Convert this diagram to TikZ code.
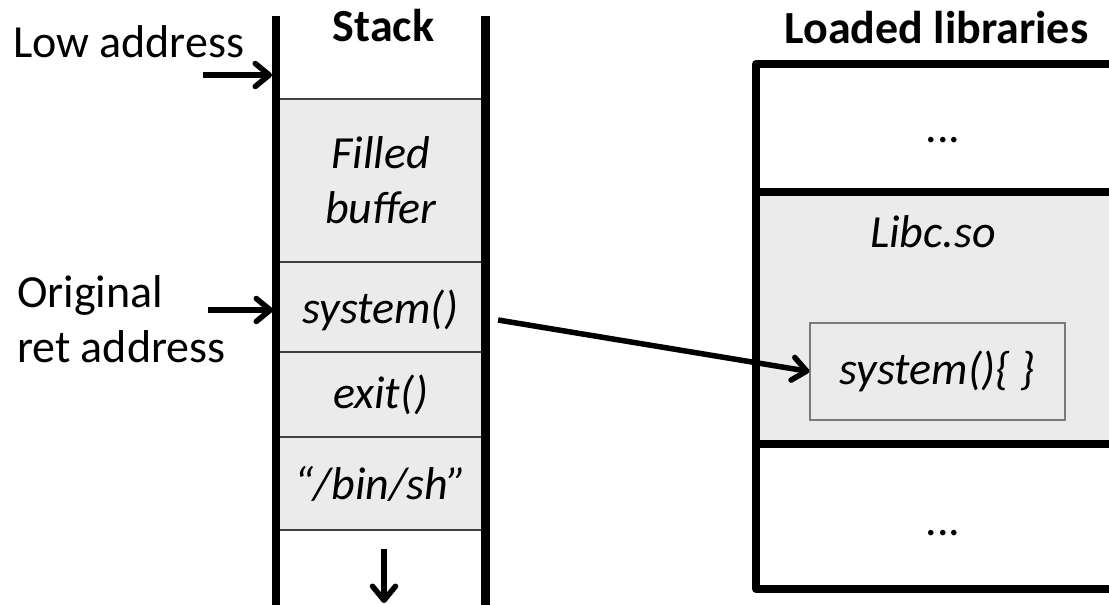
\documentclass[tikz,border=0pt]{standalone}
\usepackage{fontspec}
\setmainfont{Carlito}
\usetikzlibrary{arrows.meta}
\definecolor{cellgray}{HTML}{EBEBEB}
\definecolor{rulegray}{HTML}{404040}
\definecolor{framegray}{HTML}{7A7A7A}
\begin{document}
\begin{tikzpicture}[x=1pt,y=-1pt,
  font=\fontsize{46}{55}\selectfont,
  txt/.style={inner sep=0pt,outer sep=0pt},
  cell/.style={draw=rulegray,line width=1.2pt,fill=cellgray,minimum width=209.5pt,
    inner sep=0pt,font=\fontsize{46}{55}\selectfont\itshape,align=center},
  wall/.style={line width=8.5pt},
  frame/.style={line width=7.5pt,line join=round},
  ptr/.style={line width=5.5pt,
    -{Straight Barb[length=14pt,width=23pt,line width=5.5pt,line cap=round,line join=round]}}]
\useasboundingbox (0,0) rectangle (1109,605);
\clip (0,0) rectangle (1109,605);

% stack frames
\node[cell,minimum height=163pt] (buf) at (380.75,180.5) {Filled\\buffer};
\node[cell,minimum height=90pt,text depth=0pt] (sys) at (380.75,307) {system()};
\node[cell,minimum height=85pt]  (ext) at (380.75,394.5) {exit()};
\node[cell,minimum height=93pt]  (sh)  at (380.75,483.5) {“/bin/sh”};
\draw[wall] (276,16) -- (276,615);
\draw[wall] (485.5,16) -- (485.5,615);
\node[txt,font=\fontsize{46}{55}\selectfont\bfseries,anchor=base] (stk) at (383.5,41.5) {Stack};

% growth direction
\coordinate (gtop) at (384,549);
\coordinate (gbot) at (384,603);
\draw[ptr] (gtop) -- (gbot);

% address labels
\node[txt,anchor=base west] (low) at (13,57) {Low address};
\coordinate (lowtail) at (203,75);
\coordinate (lowtip) at (272,75);
\draw[ptr] (lowtail) -- (lowtip);
\node[txt,anchor=base west,align=left] (orig) at (17,362) {Original\\ret address};
\coordinate (origtail) at (208,310);
\coordinate (origtip) at (273,310);
\draw[ptr] (origtail) -- (origtip);

% loaded libraries
\fill[cellgray] (756,192) rectangle (1130,444);
\draw[frame] (1130,64) -- (756,64) -- (756,589) -- (1130,589);
\draw[frame] (756,192) -- (1130,192);
\draw[frame] (756,444) -- (1130,444);
\node[txt,font=\fontsize{46}{55}\selectfont\bfseries,anchor=base] (lib) at (936.5,43) {Loaded libraries};
\node[txt,anchor=base] (dtop) at (943,142) {...};
\node[txt,anchor=base] (dbot) at (943,535) {...};
\node[txt,anchor=base,font=\fontsize{46}{55}\selectfont\itshape] (libc) at (933,247) {Libc.so};
\node[draw=framegray,line width=1.2pt,fill=cellgray,minimum width=255pt,minimum height=97pt,
  inner sep=0pt,font=\fontsize{46}{55}\selectfont\itshape] (fn) at (937.5,371.5) {system()\{ \}};

% return target
\draw[ptr] ([shift={(12,13)}]sys.east) -- (fn.west);
\end{tikzpicture}
\end{document}
